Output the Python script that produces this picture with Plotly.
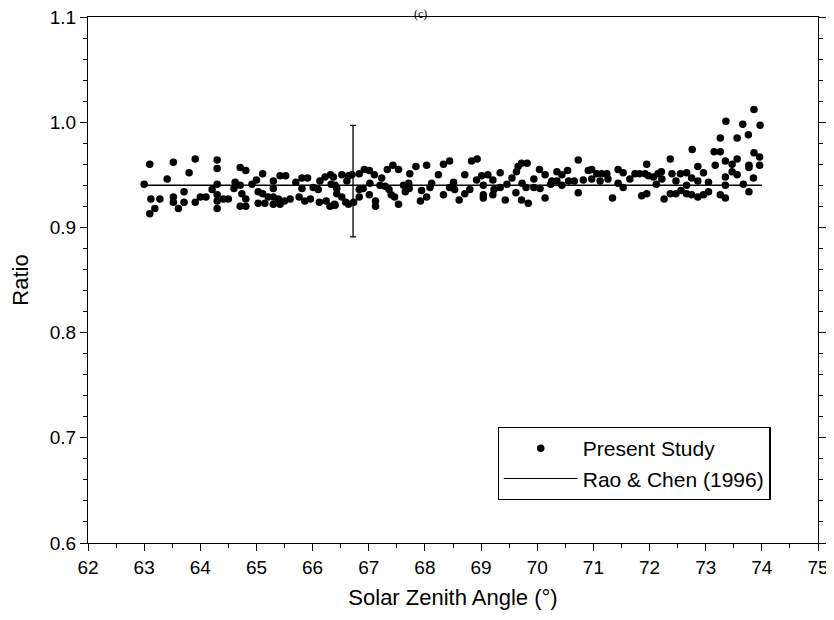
import plotly.graph_objects as go

# Present Study points (Solar Zenith Angle, Ratio)
sza = [
    63.00, 63.10, 63.12, 63.19, 63.10, 63.28, 63.41, 63.52, 63.52, 63.52, 63.61, 63.71, 63.71, 63.80,
    63.91, 63.91, 64.00, 64.10, 64.21, 64.30, 64.30, 64.30, 64.30, 64.30, 64.30, 64.41, 64.50, 64.62,
    64.60, 64.71, 64.81, 64.71, 64.74, 64.81, 64.71, 64.81, 64.92, 65.00, 65.11, 65.03, 65.11, 65.03,
    65.15, 65.21, 65.30, 65.30, 65.30, 65.30, 65.39, 65.42, 65.52, 65.42, 65.50, 65.60, 65.70, 65.81,
    65.91, 65.81, 65.76, 65.86, 65.96, 66.01, 66.10, 66.13, 66.22, 66.32, 66.12, 66.24, 66.31, 66.39,
    66.40, 66.43,
    66.37, 66.33, 66.43, 66.40, 66.52, 66.52, 66.61, 66.64, 66.70, 66.59, 66.64, 66.73, 66.83, 66.83,
    66.83, 66.92, 67.01, 66.90, 67.01, 67.02, 67.10, 67.12, 67.12, 67.20, 67.23, 67.29, 67.33, 67.43,
    67.53, 67.36, 67.40, 67.46, 67.53, 67.62, 67.65, 67.71, 67.73, 67.72, 67.84, 67.94, 67.92, 68.03,
    68.03, 68.09, 68.12, 68.24, 68.33, 68.44, 68.33, 68.44, 68.51, 68.53, 68.61, 68.71, 68.71, 68.80,
    68.83, 68.93, 68.92, 69.01, 69.04, 69.04, 69.04, 69.12, 69.21, 69.23, 69.21, 69.34, 69.34, 69.43,
    69.46, 69.55, 69.63, 69.66, 69.72, 69.82, 69.62, 69.72, 69.84, 69.73, 69.80, 69.94, 69.94, 70.04,
    70.05, 70.14, 70.14, 70.24, 70.26, 70.35, 70.35, 70.44, 70.44, 70.54, 70.56, 70.66, 70.73, 70.73,
    70.82, 70.91,
    70.97, 70.97, 71.06, 71.15, 71.24, 71.12, 71.26, 71.34, 71.44, 71.44, 71.53, 71.53, 71.65, 71.74,
    71.82, 71.86, 71.95, 71.95, 71.92, 71.98, 72.07, 72.12, 72.15, 72.21, 72.26, 72.22, 72.37, 72.37,
    72.40, 72.47, 72.47, 72.56, 72.55, 72.66, 72.66, 72.66, 72.76, 72.75, 72.75, 72.86, 72.86, 72.86,
    72.96, 72.96, 73.05, 73.05, 73.15, 73.26, 73.17, 73.26, 73.35, 73.35, 73.35, 73.35, 73.47, 73.47,
    73.56, 73.56, 73.67, 73.77, 73.77, 73.77, 73.86, 73.85, 73.96, 73.96,
    73.86, 73.36, 73.66, 73.97, 73.26, 73.56, 73.76,
]
ratio = [
    0.941, 0.960, 0.927, 0.918, 0.913, 0.927, 0.946, 0.962, 0.929, 0.924, 0.918, 0.924, 0.934, 0.952,
    0.965, 0.924, 0.929, 0.929, 0.936, 0.964, 0.956, 0.941, 0.931, 0.925, 0.918, 0.927, 0.927, 0.943,
    0.937, 0.957, 0.954, 0.940, 0.932, 0.927, 0.920, 0.920, 0.941, 0.945, 0.951, 0.934, 0.932, 0.923,
    0.923, 0.929, 0.944, 0.937, 0.929, 0.922, 0.927, 0.949, 0.949, 0.922, 0.925, 0.927, 0.943, 0.947,
    0.947, 0.937, 0.929, 0.925, 0.927, 0.938, 0.936, 0.944, 0.948, 0.950, 0.924, 0.925, 0.920, 0.922,
    0.940, 0.932,
    0.948, 0.941, 0.937, 0.921, 0.950, 0.929, 0.944, 0.949, 0.950, 0.924, 0.922, 0.924, 0.951, 0.936,
    0.929, 0.955, 0.954, 0.937, 0.931, 0.942, 0.950, 0.925, 0.920, 0.940, 0.947, 0.939, 0.955, 0.959,
    0.955, 0.936, 0.931, 0.929, 0.922, 0.940, 0.934, 0.942, 0.951, 0.937, 0.958, 0.935, 0.925, 0.959,
    0.929, 0.938, 0.942, 0.950, 0.960, 0.963, 0.931, 0.938, 0.943, 0.936, 0.926, 0.950, 0.932, 0.936,
    0.963, 0.965, 0.945, 0.949, 0.940, 0.931, 0.928, 0.950, 0.945, 0.936, 0.931, 0.952, 0.938, 0.926,
    0.941, 0.947, 0.953, 0.958, 0.961, 0.961, 0.933, 0.926, 0.923, 0.942, 0.938, 0.946, 0.938, 0.955,
    0.937, 0.950, 0.928, 0.941, 0.944, 0.953, 0.944, 0.950, 0.940, 0.954, 0.944, 0.944, 0.964, 0.933,
    0.945, 0.954,
    0.955, 0.946, 0.951, 0.951, 0.951, 0.944, 0.946, 0.928, 0.955, 0.942, 0.952, 0.938, 0.946, 0.951,
    0.951, 0.930, 0.960, 0.932, 0.951, 0.949, 0.948, 0.941, 0.951, 0.953, 0.927, 0.946, 0.965, 0.932,
    0.951, 0.944, 0.932, 0.935, 0.951, 0.952, 0.940, 0.932, 0.974, 0.947, 0.931, 0.958, 0.944, 0.929,
    0.952, 0.931, 0.943, 0.934, 0.972, 0.972, 0.959, 0.931, 0.963, 0.948, 0.940, 0.928, 0.960, 0.953,
    0.965, 0.950, 0.941, 0.959, 0.957, 0.934, 0.971, 0.947, 0.967, 0.959,
    1.012, 1.001, 0.998, 0.997, 0.985, 0.985, 0.988,
]

# Rao & Chen (1996) reference line
rao_x = [63.0, 74.0]
rao_y = [0.94, 0.94]

# Representative error bar
err_x = [66.72]
err_y = [0.944]
err_half = [0.053]

x_ticks = list(range(62, 76))
y_ticks = [0.6, 0.7, 0.8, 0.9, 1.0, 1.1]

FONT = "Liberation Sans, Arial, sans-serif"

fig = go.Figure()
fig.add_trace(go.Scatter(
    x=rao_x, y=rao_y, mode="lines", name="Rao & Chen (1996)",
    line=dict(color="black", width=1.5), showlegend=False))
fig.add_trace(go.Scatter(
    x=err_x, y=err_y, mode="markers", showlegend=False,
    marker=dict(size=1, color="rgba(0,0,0,0)"),
    error_y=dict(type="data", array=err_half, color="black", thickness=1.3, width=3)))
fig.add_trace(go.Scatter(
    x=sza, y=ratio, mode="markers", name="Present Study",
    marker=dict(size=7.5, color="black")))
# legend entry for the line, after the points
fig.add_trace(go.Scatter(
    x=[None], y=[None], mode="lines", name="Rao & Chen (1996)",
    line=dict(color="black", width=1)))

axis_common = dict(
    showgrid=False, zeroline=False, showline=True, linecolor="black", linewidth=1.2,
    ticks="outside", ticklen=7, tickwidth=1.2, tickcolor="black", automargin=False,
    ticklabeloverflow="allow",
    tickfont=dict(family=FONT, size=19, color="black"),
)

fig.update_xaxes(
    range=[62, 75], tickvals=x_ticks, mirror=True,
    minor=dict(dtick=0.5, ticks="outside", ticklen=4, tickcolor="black", tickwidth=1),
    title=dict(text="Solar Zenith Angle (°)", font=dict(family=FONT, size=22, color="black"), standoff=12),
    **axis_common)
fig.update_yaxes(
    range=[0.6, 1.1], tickvals=y_ticks, tickformat=".1f", mirror="ticks",
    minor=dict(dtick=0.02, tick0=0.6, ticks="outside", ticklen=4, tickcolor="black", tickwidth=1),
    title=dict(text="Ratio", font=dict(family=FONT, size=22, color="black"), standoff=14),
    **axis_common)

# panel label "(c)" just above the frame
fig.add_annotation(
    text="(c)", xref="paper", yref="paper", x=0.455, y=1.0 + 3 / 526,
    showarrow=False, font=dict(family="Liberation Serif, Times New Roman, serif", size=12, color="black"),
    xanchor="center", yanchor="middle")

# page body has an 8px margin, so the figure is sized/offset to keep the plot
# area at the reference's pixel position
fig.update_layout(
    width=826, height=612,
    margin=dict(l=80, r=16, t=9, b=77),
    plot_bgcolor="white", paper_bgcolor="white",
    legend=dict(
        x=0.561, y=0.082, xanchor="left", yanchor="bottom",
        bgcolor="white", bordercolor="black", borderwidth=1.2,
        font=dict(family=FONT, size=21, color="black"),
        itemwidth=74, tracegroupgap=0,
    ),
)

fig.write_html("out.html")
